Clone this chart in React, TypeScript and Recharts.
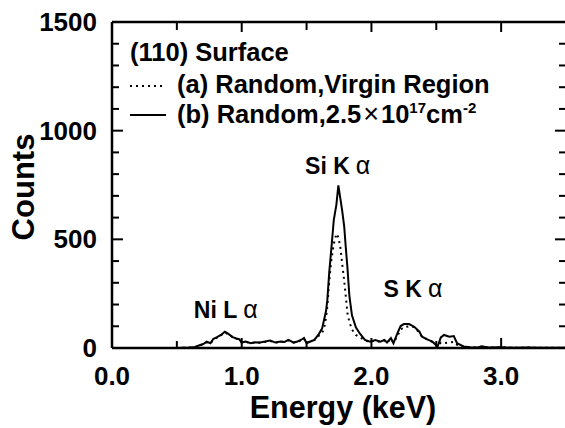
import React from 'react';
import { LineChart, Line, XAxis, YAxis, ReferenceDot, Customized } from 'recharts';

// energy in keV, counts
const energy = [
  0.5, 0.55, 0.6, 0.64, 0.68, 0.71, 0.73, 0.76, 0.78, 0.81, 0.84, 0.87, 0.9, 0.93, 0.96, 0.98,
  1.0, 1.03, 1.07, 1.1, 1.14, 1.18, 1.22, 1.26, 1.3, 1.33, 1.36, 1.4, 1.43, 1.46, 1.48, 1.5,
  1.53, 1.56, 1.59, 1.61, 1.62, 1.635, 1.65, 1.66, 1.675, 1.69, 1.71, 1.73, 1.745, 1.76, 1.775,
  1.79, 1.8, 1.815, 1.83, 1.85, 1.88, 1.91, 1.95, 1.99, 2.03, 2.07, 2.1, 2.12, 2.15, 2.17, 2.2,
  2.225, 2.25, 2.29, 2.33, 2.37, 2.39, 2.43, 2.47, 2.51, 2.535, 2.56, 2.6, 2.635, 2.66, 2.71,
  2.76, 2.82, 2.85, 2.9, 3.0, 3.1, 3.2, 3.3, 3.4, 3.5,
];

// (a) Random, Virgin Region (dotted)
const countsVirgin = [
  0, 1, 2, 4, 12, 18, 26, 22, 38, 48, 58, 72, 62, 50, 42, 40,
  25, 28, 22, 25, 24, 28, 32, 25, 29, 27, 35, 25, 28, 36, 42, 24,
  30, 36, 55, 62, 70, 90, 140, 190, 310, 400, 480, 526, 510, 465, 385,
  310, 252, 160, 120, 85, 60, 50, 35, 29, 34, 28, 35, 25, 42, 24, 55,
  85, 95, 100, 96, 70, 52, 40, 28, 8, 25, 22, 25, 28, 15, 6,
  4, 2, 6, 2, 3, 1, 2, 1, 1, 1,
];

// (b) Random, 2.5x10^17 cm^-2 (solid)
const countsImplanted = [
  0, 1, 2, 5, 14, 20, 29, 22, 41, 50, 60, 75, 64, 50, 44, 41,
  25, 30, 22, 26, 25, 30, 34, 25, 30, 28, 37, 25, 30, 38, 46, 22,
  30, 37, 60, 80, 90, 130, 170, 220, 350, 450, 590, 660, 748, 690, 630,
  560, 480, 370, 240, 150, 95, 67, 37, 29, 37, 29, 37, 25, 46, 22, 67,
  101, 110, 110, 98, 75, 52, 40, 29, 7, 49, 60, 52, 55, 22, 7,
  4, 2, 8, 2, 3, 1, 2, 1, 1, 1,
];

const xTicks = [0, 0.5, 1, 1.5, 2, 2.5, 3, 3.5];
const xLabelTicks = [0, 1, 2, 3];
const yTicks = [0, 100, 200, 300, 400, 500, 600, 700, 800, 900, 1000, 1100, 1200, 1300, 1400, 1500];
const yLabelTicks = [0, 500, 1000, 1500];
const X_MAX = 3.5;

const data = energy.map((e, i) => ({ e, a: countsVirgin[i], b: countsImplanted[i] }));

const FONT = '"Liberation Sans", Arial, Helvetica, sans-serif';
const AXIS = { stroke: '#000', strokeWidth: 2.5 };

const BottomTick = (props: any) => {
  const { x, y, payload } = props;
  const major = xLabelTicks.includes(payload.value);
  return (
    <g>
      <line x1={x} x2={x} y1={y} y2={y - (major ? 10 : 7)} stroke="#000" strokeWidth={2} />
      {major && (
        <text x={x} y={y + 37} textAnchor="middle" fontFamily={FONT} fontWeight="bold" fontSize={26} fill="#000">
          {payload.value.toFixed(1)}
        </text>
      )}
    </g>
  );
};

const TopTick = (props: any) => {
  const { x, y, payload } = props;
  const major = xLabelTicks.includes(payload.value);
  return <line x1={x} x2={x} y1={y} y2={y + (major ? 10 : 8)} stroke="#000" strokeWidth={2} />;
};

const LeftTick = (props: any) => {
  const { x, y, payload } = props;
  const major = yLabelTicks.includes(payload.value);
  return (
    <g>
      <line x1={x} x2={x + (major ? 11 : 7)} y1={y} y2={y} stroke="#000" strokeWidth={2} />
      {major && (
        <text x={x - 15} y={y + 9} textAnchor="end" fontFamily={FONT} fontWeight="bold" fontSize={26} fill="#000">
          {payload.value}
        </text>
      )}
    </g>
  );
};

// inward tick on the right-hand frame, drawn at (X_MAX, value)
const rightTickShape = (major: boolean) => (props: any) => {
  const { cx, cy } = props;
  return <line x1={cx - (major ? 11 : 7)} x2={cx} y1={cy} y2={cy} stroke="#000" strokeWidth={2} />;
};

// peak name with a lighter alpha after it
const peakLabel = (name: string) => (props: any) => {
  const { viewBox } = props;
  return (
    <text x={viewBox.x} y={viewBox.y} textAnchor="middle" fontFamily={FONT} fill="#000">
      <tspan fontWeight="bold" fontSize={23}>{name}</tspan>
      <tspan fontWeight="normal" fontSize={25} dx={6}>α</tspan>
    </text>
  );
};

const LegendBlock = () => (
  <g fontFamily={FONT} fontWeight="bold" fill="#000">
    <text x={130} y={61} fontSize={25.5}>(110) Surface</text>
    <line x1={130} x2={166} y1={86} y2={86} stroke="#000" strokeWidth={2} strokeDasharray="2 4" />
    <text x={177} y={93} fontSize={25.5}>(a) Random,Virgin Region</text>
    <line x1={130} x2={166} y1={115} y2={115} stroke="#000" strokeWidth={2} />
    <text x={177} y={123} fontSize={25.5}>
      (b) Random,2.5
      <tspan fontWeight="normal" fontSize={27} dx={2}>×</tspan>
      <tspan dx={2}>10</tspan>
      <tspan fontSize={15} dy={-10}>17</tspan>
      <tspan dy={10}>cm</tspan>
      <tspan fontSize={15} dy={-10}>-2</tspan>
    </text>
  </g>
);

const AxisTitles = () => (
  <g fontFamily={FONT} fontWeight="bold" fill="#000">
    <text x={343} y={418} textAnchor="middle" fontSize={30.5}>Energy (keV)</text>
    <text x={34} y={187} textAnchor="middle" fontSize={31} transform="rotate(-90 34 187)">Counts</text>
  </g>
);

export default function App() {
  return (
    <div style={{ position: 'absolute', left: 0, top: 0, width: 565, height: 428, overflow: 'hidden', background: '#fff' }}>
      <LineChart width={566} height={428} data={data} margin={{ top: 0, right: 0, bottom: 0, left: 0 }}>
        <XAxis
          dataKey="e"
          type="number"
          domain={[0, X_MAX]}
          ticks={xTicks}
          interval={0}
          height={80}
          axisLine={AXIS}
          tickLine={false}
          tickSize={0}
          tickMargin={0}
          tick={BottomTick}
        />
        <XAxis
          xAxisId="top"
          dataKey="e"
          orientation="top"
          type="number"
          domain={[0, X_MAX]}
          ticks={xTicks}
          interval={0}
          height={22}
          axisLine={AXIS}
          tickLine={false}
          tickSize={0}
          tickMargin={0}
          tick={TopTick}
        />
        <YAxis
          type="number"
          domain={[0, 1500]}
          ticks={yTicks}
          interval={0}
          width={112}
          axisLine={AXIS}
          tickLine={false}
          tickSize={0}
          tickMargin={0}
          tick={LeftTick}
        />
        <Line type="linear" dataKey="a" stroke="#000" strokeWidth={2} strokeDasharray="2 4" dot={false} isAnimationActive={false} />
        <Line type="linear" dataKey="b" stroke="#000" strokeWidth={2} dot={false} isAnimationActive={false} />
        {/* invisible copy so the top frame axis gets the same scale */}
        <Line xAxisId="top" type="linear" dataKey="b" stroke="none" dot={false} activeDot={false} isAnimationActive={false} />
        {yTicks.map((v) => (
          <ReferenceDot key={v} x={X_MAX} y={v} r={0} ifOverflow="visible" shape={rightTickShape(yLabelTicks.includes(v))} />
        ))}
        <ReferenceDot x={0.877} y={138} r={0} stroke="none" fill="none" label={{ content: peakLabel('Ni L') }} />
        <ReferenceDot x={1.74} y={800} r={0} stroke="none" fill="none" label={{ content: peakLabel('Si K') }} />
        <ReferenceDot x={2.32} y={235} r={0} stroke="none" fill="none" label={{ content: peakLabel('S K') }} />
        <Customized component={LegendBlock} />
        <Customized component={AxisTitles} />
      </LineChart>
    </div>
  );
}
